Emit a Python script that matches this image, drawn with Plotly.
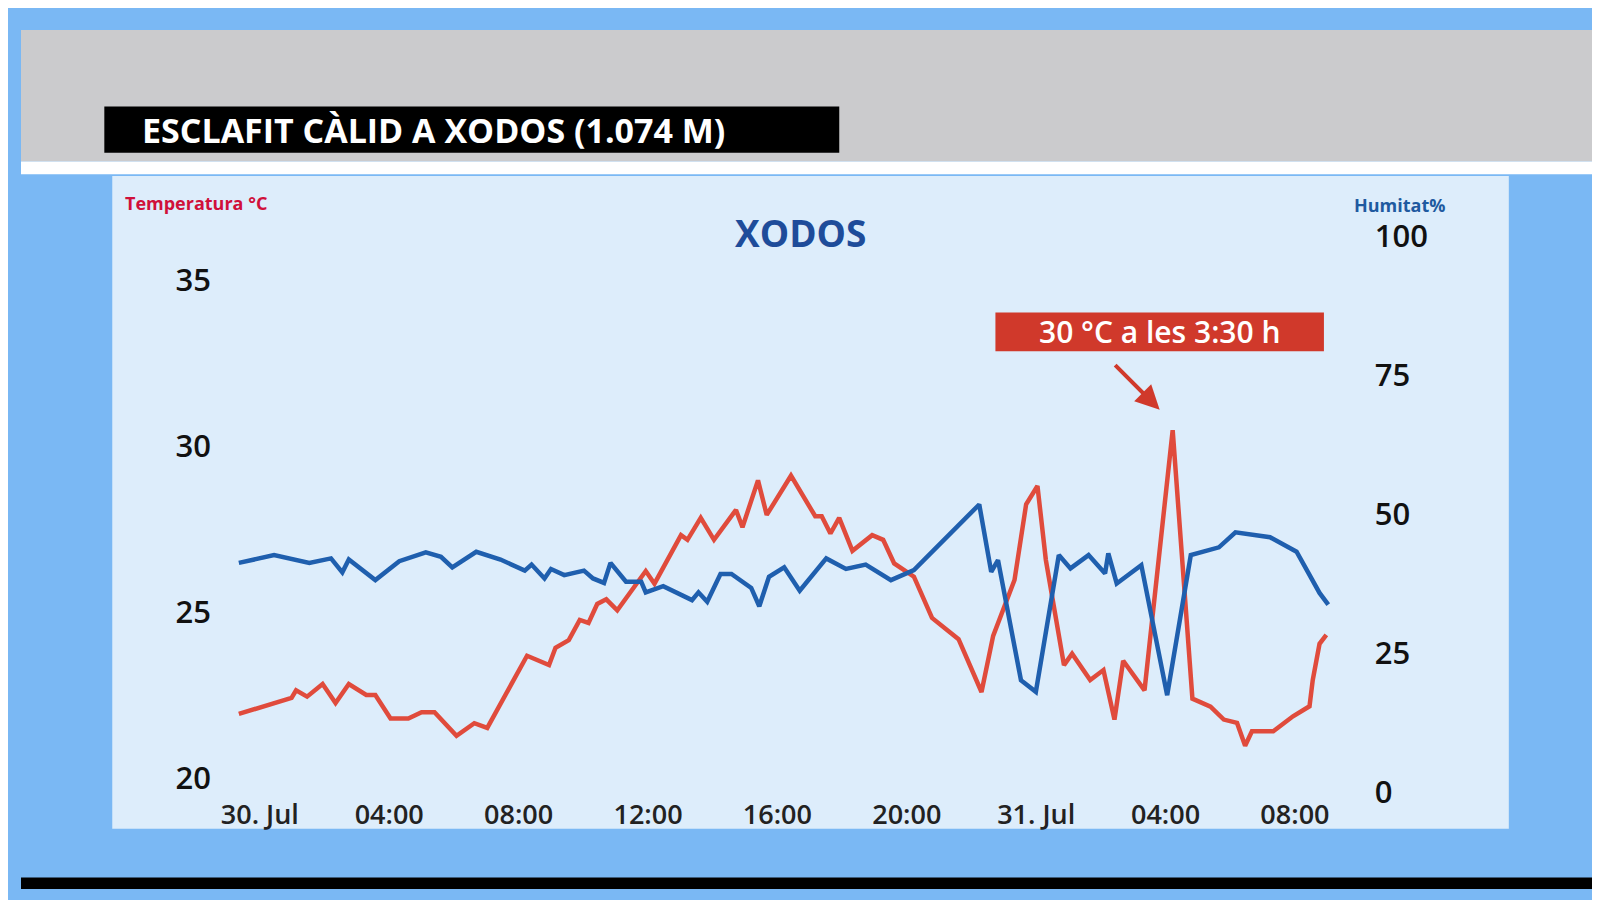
import plotly.graph_objects as go

# hours after 30 Jul 00:00
temp_h = [-0.65, 0.98, 1.12, 1.46, 1.94, 2.34, 2.75, 3.29, 3.57, 4.04, 4.59, 5.0, 5.4, 6.08, 6.63, 7.03,
          8.26, 8.94, 9.14, 9.55, 9.89, 10.16, 10.43, 10.71, 11.05, 11.93, 12.2, 13.02, 13.22, 13.63,
          14.04, 14.72, 14.92, 15.4, 15.67, 16.42, 17.17, 17.37, 17.64, 17.91, 18.32, 18.93, 19.27,
          19.61, 20.22, 20.78, 21.6, 22.31, 22.67, 23.33, 23.69, 24.04, 24.3, 24.86, 25.11, 25.67,
          26.08, 26.42, 26.69, 27.35, 28.22, 28.83, 29.39, 29.8, 30.21, 30.46, 30.67, 31.33, 31.94,
          32.45, 32.55, 32.76, 32.97]
temp_c = [21.93, 22.41, 22.64, 22.45, 22.83, 22.26, 22.83, 22.5, 22.5, 21.79, 21.79, 21.98, 21.98, 21.27,
          21.65, 21.51, 23.68, 23.4, 23.92, 24.15, 24.76, 24.67, 25.24, 25.38, 25.05, 26.23, 25.85,
          27.31, 27.17, 27.83, 27.17, 28.07, 27.55, 28.96, 27.92, 29.1, 27.88, 27.88, 27.36, 27.83,
          26.84, 27.31, 27.17, 26.46, 26.06, 24.82, 24.18, 22.59, 24.28, 25.96, 28.24, 28.79, 26.56,
          23.4, 23.74, 22.95, 23.25, 21.76, 23.53, 22.64, 30.47, 22.39, 22.15, 21.76, 21.66, 20.97,
          21.41, 21.41, 21.86, 22.16, 22.95, 24.04, 24.31]

hum_h = [-0.65, 0.44, 1.53, 2.2, 2.55, 2.75, 3.57, 4.31, 5.13, 5.6, 5.95, 6.69, 7.44, 8.19, 8.4, 8.8, 9.0,
         9.41, 10.02, 10.3, 10.64, 10.84, 11.32, 11.79, 11.93, 12.47, 13.36, 13.56, 13.83, 14.24,
         14.58, 15.19, 15.44, 15.74, 16.21, 16.69, 17.51, 18.12, 18.73, 19.51, 20.22, 22.24, 22.61,
         22.82, 23.53, 23.99, 24.7, 25.06, 25.62, 26.13, 26.23, 26.49, 27.25, 28.05, 28.78, 29.65,
         30.16, 31.23, 32.05, 32.76, 33.03]
hum_pct = [41.3, 42.7, 41.3, 42.1, 39.6, 41.9, 38.2, 41.6, 43.2, 42.4, 40.5, 43.3, 41.9, 39.9, 41.0, 38.5,
           40.2, 39.1, 39.9, 38.5, 37.7, 41.3, 37.9, 37.9, 36.0, 37.1, 34.6, 36.0, 34.3, 39.3, 39.3,
           36.8, 33.5, 38.8, 40.5, 36.3, 42.1, 40.2, 41.0, 38.2, 40.0, 51.8, 39.7, 41.8, 20.2, 18.1,
           42.7, 40.3, 42.7, 39.4, 43.0, 37.6, 40.9, 17.5, 42.7, 44.1, 46.8, 45.9, 43.3, 35.9, 33.8]

x_ticks = [0, 4, 8, 12, 16, 20, 24, 28, 32]
x_labels = ["30. Jul", "04:00", "08:00", "12:00", "16:00", "20:00", "31. Jul", "04:00", "08:00"]

FONT = "Open Sans"
RED = "#e04b3c"
BLUE = "#1f5fae"

fig = go.Figure()
fig.add_trace(go.Scatter(x=temp_h, y=temp_c, mode="lines", line=dict(color=RED, width=4.5),
                         name="Temperatura"))
fig.add_trace(go.Scatter(x=hum_h, y=hum_pct, mode="lines", line=dict(color=BLUE, width=4.5),
                         name="Humitat", yaxis="y2"))

tickfont = dict(family=FONT, size=31, color="#111111", weight=600)
fig.update_layout(
    width=1600, height=900,
    margin=dict(l=0, r=0, t=0, b=0),
    paper_bgcolor="#7ab8f4",
    plot_bgcolor="rgba(0,0,0,0)",
    showlegend=False,
    xaxis=dict(domain=[0.1342, 0.8272], range=[-0.8, 33.2], tickvals=x_ticks, ticktext=x_labels,
               showgrid=False, zeroline=False, showline=False, ticks="",
               tickfont=dict(family=FONT, size=27, color="#222222", weight=600), ticklabelstandoff=2),
    yaxis=dict(domain=[0.111, 0.76], range=[19.53, 36.31], tickvals=[20, 25, 30, 35],
               showgrid=False, zeroline=False, ticks="", tickfont=tickfont, ticklabelstandoff=22),
    yaxis2=dict(overlaying="y", side="right", range=[-0.2, 100.05], tickvals=[0, 25, 50, 75, 100],
                showgrid=False, zeroline=False, ticks="", tickfont=tickfont, ticklabelstandoff=40),
    shapes=[
        dict(type="rect", xref="paper", yref="paper", x0=0, x1=1, y0=0.847, y1=1,
             fillcolor="#cbcbcd", line_width=0, layer="below"),
        dict(type="rect", xref="paper", yref="paper", x0=0, x1=1, y0=0.832, y1=0.847,
             fillcolor="#ffffff", line_width=0, layer="below"),
        dict(type="rect", xref="paper", yref="paper", x0=0, x1=1, y0=0, y1=0.0133,
             fillcolor="#000000", line_width=0, layer="below"),
        dict(type="rect", xref="paper", yref="paper", x0=0.996, x1=1, y0=0, y1=1,
             fillcolor="#000000", line_width=0, layer="below"),
        dict(type="rect", xref="paper", yref="paper", x0=0.0575, x1=0.9375, y0=0.07, y1=0.83,
             fillcolor="#ddedfb", line_width=0, layer="below"),
        dict(type="rect", xref="paper", yref="paper", x0=0.0525, x1=0.5156, y0=0.857, y1=0.911,
             fillcolor="#000000", line_width=0, layer="below"),
        dict(type="rect", xref="paper", yref="paper", x0=0.614, x1=0.821, y0=0.626, y1=0.671,
             fillcolor="#d0392b", line_width=0, layer="below"),
    ],
    annotations=[
        dict(text="ESCLAFIT CÀLID A XODOS (1.074 M)", xref="paper", yref="paper", x=0.075, y=0.884,
             xanchor="left", yanchor="middle", showarrow=False,
             font=dict(family=FONT, size=34, color="white", weight=700)),
        dict(text="XODOS", xref="paper", yref="paper", x=0.491, y=0.796, xanchor="center",
             showarrow=False, font=dict(family=FONT, size=37, color="#1e4c9a", weight=700)),
        dict(text="Temperatura °C", xref="paper", yref="paper", x=0.064, y=0.815, xanchor="left",
             showarrow=False, font=dict(family=FONT, size=18, color="#d0103a", weight=700)),
        dict(text="Humitat%", xref="paper", yref="paper", x=0.839, y=0.812, xanchor="left",
             showarrow=False, font=dict(family=FONT, size=18, color="#1f5aa0", weight=700)),
        dict(text="30 °C a les 3:30 h", xref="paper", yref="paper", x=0.7175, y=0.6485,
             xanchor="center", yanchor="middle",
             showarrow=False, font=dict(family=FONT, size=30, color="white", weight=600)),
        dict(text="", xref="paper", yref="paper", x=0.7175, y=0.558, ax=-46, ay=-46,
             showarrow=True, arrowhead=2, arrowsize=1.2, arrowwidth=4, arrowcolor="#d0392b"),
    ],
)

fig.write_html("out.html")
